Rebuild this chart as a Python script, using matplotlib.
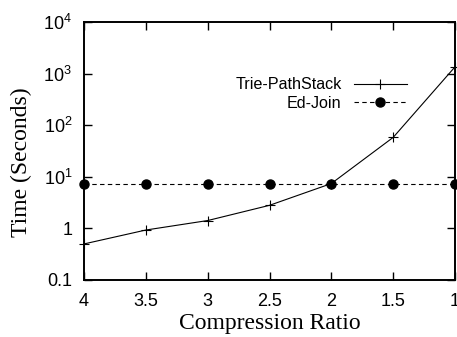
import matplotlib
matplotlib.use("Agg")
import matplotlib.pyplot as plt
from matplotlib.ticker import FixedLocator, FixedFormatter, NullLocator

plt.rcParams['font.family'] = ['Liberation Sans', 'DejaVu Sans']
plt.rcParams['mathtext.fontset'] = 'custom'
plt.rcParams['mathtext.rm'] = 'Liberation Sans'
plt.rcParams['mathtext.it'] = 'Liberation Sans'

# Compression ratio vs. running time
ratios = [4, 3.5, 3, 2.5, 2, 1.5, 1]
trie_pathstack = [0.5, 0.93, 1.42, 2.8, 7.4, 58, 1350]
ed_join = [7.4, 7.4, 7.4, 7.4, 7.4, 7.4, 7.4]

x_ticks = [4, 3.5, 3, 2.5, 2, 1.5, 1]
x_tick_labels = ["4", "3.5", "3", "2.5", "2", "1.5", "1"]
y_ticks = [0.1, 1, 10, 100, 1000, 10000]
y_tick_labels = ["0.1", "1", r"$10^{1}$", r"$10^{2}$", r"$10^{3}$", r"$10^{4}$"]

fig = plt.figure(figsize=(4.57, 3.37), dpi=100)
ax = fig.add_axes([84 / 457, 57 / 337, 371 / 457, 258 / 337])

ax.plot(ratios, trie_pathstack, color='black', lw=0.8, marker='+',
        markersize=7, markeredgewidth=0.8, label='Trie-PathStack', clip_on=False)
ax.plot(ratios, ed_join, color='black', lw=0.8, linestyle=(0, (4, 3)),
        marker='o', markersize=6.5, label='Ed-Join', clip_on=False)

ax.set_yscale('log')
ax.set_xlim(4, 1)
ax.set_ylim(0.1, 10000)

ax.xaxis.set_major_locator(FixedLocator(x_ticks))
ax.xaxis.set_major_formatter(FixedFormatter(x_tick_labels))
ax.yaxis.set_major_locator(FixedLocator(y_ticks))
ax.yaxis.set_major_formatter(FixedFormatter(y_tick_labels))
ax.xaxis.set_minor_locator(NullLocator())
ax.yaxis.set_minor_locator(NullLocator())

ax.tick_params(direction='in', length=6, width=1, top=True, right=True,
               labelsize=13, colors='black')
ax.tick_params(axis='y', pad=8.5)
ax.tick_params(axis='x', pad=9.5)
for s in ax.spines.values():
    s.set_linewidth(1.4)

ax.set_xlabel('Compression Ratio', family='Liberation Serif', fontsize=17, labelpad=2)
ax.set_ylabel('Time (Seconds)', family='Liberation Serif', fontsize=17)
ax.yaxis.set_label_coords(-0.14, 0.457)

ax.legend(loc='upper right', bbox_to_anchor=(0.87, 0.785), frameon=False,
          markerfirst=False, fontsize=11.6, handlelength=3.3,
          handletextpad=0.75, labelspacing=0.22, borderpad=0, borderaxespad=0)

fig.savefig('out.png', dpi=100)
